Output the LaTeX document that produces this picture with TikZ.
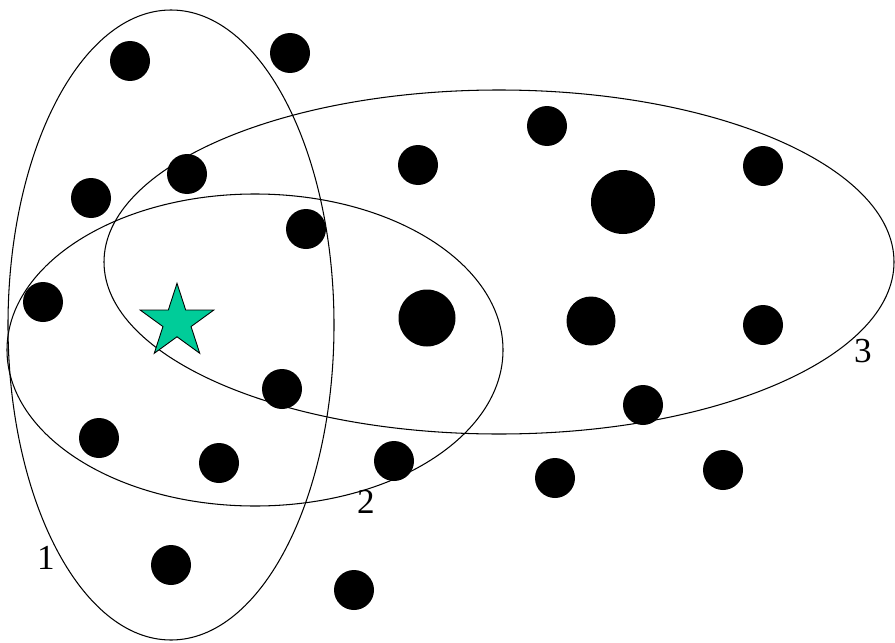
\documentclass[tikz,border=0pt]{standalone}
\usepackage{fontspec}
\setmainfont{Liberation Serif}
\usepackage{tikz}
\usetikzlibrary{shapes.geometric}
\definecolor{verdeestrella}{RGB}{0,204,153}

\begin{document}
\begin{tikzpicture}[x=0.02cm,y=-0.02cm,line width=0.6pt,
  etiqueta/.style={inner sep=0pt,font=\fontsize{20}{24}\selectfont}]
  \useasboundingbox (0,0) rectangle (895,642);

  % Elipses 1, 2 y 3
  \draw (171,325) ellipse [x radius=163, y radius=315];
  \draw (255,350) ellipse [x radius=248, y radius=156];
  \draw (499,262) ellipse [x radius=395, y radius=172];

  \foreach \x/\y in {130/61, 290/53, 91/198, 187/174, 306/229, 43/302,
                     282/389, 99/438, 219/463, 394/461, 171/565, 354/590,
                     418/165, 547/126, 763/166, 763/325, 643/405, 555/478,
                     723/470} {
    \fill (\x,\y) circle (20);
  }
  % Puntos grandes
  \fill (623,202) circle (32);
  \fill (427,318) circle (28.5);
  \fill (591,321) circle (24.5);

  \node[star, star points=5, star point ratio=2.618, draw, fill=verdeestrella,
        line width=0.5pt, inner sep=0pt, minimum size=1.548cm] (estrella) at (177,322) {};

  \node[etiqueta] (lab1) at (46,558) {1};
  \node[etiqueta] (lab2) at (366,502) {2};
  \node[etiqueta] (lab3) at (863,351) {3};
\end{tikzpicture}
\end{document}
